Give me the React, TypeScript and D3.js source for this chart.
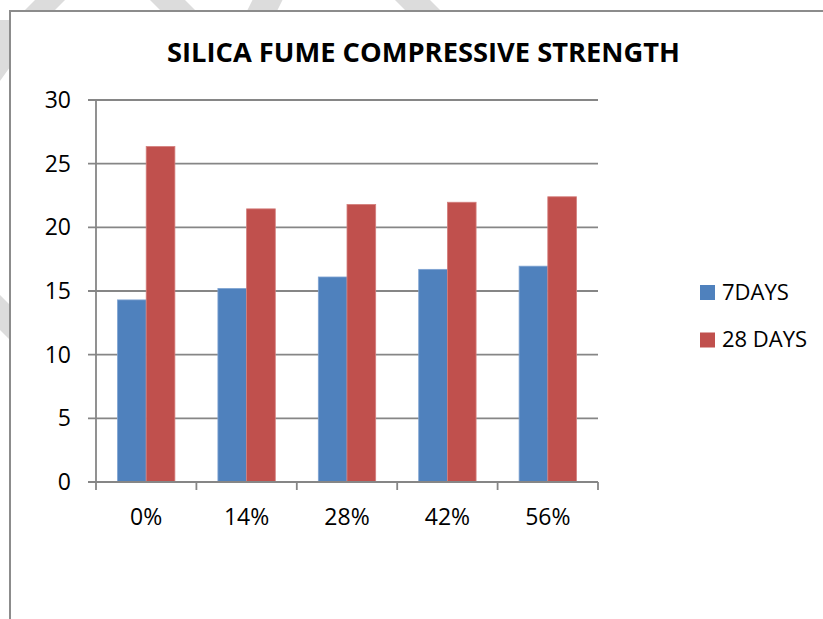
import React from "react";
import * as d3 from "d3";

// Compressive strength (MPa) by silica fume replacement level
const categories = ["0%", "14%", "28%", "42%", "56%"];
const series = ["7DAYS", "28 DAYS"];
const days7 = [14.3, 15.2, 16.1, 16.7, 16.95];
const days28 = [26.35, 21.45, 21.8, 21.97, 22.4];
const yTicks = [0, 5, 10, 15, 20, 25, 30];
const colors = ["#4F81BD", "#C0504D"];
const edgeColors = ["#7FA3D2", "#D47F7D"];

const W = 823;
const H = 619;
const plot = { left: 96, right: 598, top: 100, bottom: 482 };
const font = "'Open Sans', 'DejaVu Sans', sans-serif";

// Faint diagonal background bands sitting behind the framed chart
const bands: [number, number][][] = [
  [[40, -5], [70, -5], [20, 45], [-10, 45]],
  [[145, -5], [180, -5], [200, 15], [165, 15]],
  [[255, -5], [285, -5], [275, 15], [245, 15]],
  [[390, -5], [425, -5], [445, 15], [410, 15]],
  [[-10, 20], [15, 20], [15, 60], [-10, 95]],
  [[-10, 285], [15, 310], [15, 345], [-10, 320]],
];

export default function App() {
  const x = d3
    .scaleBand<string>()
    .domain(categories)
    .range([plot.left, plot.right])
    .paddingInner(0)
    .paddingOuter(0);
  const y = d3.scaleLinear().domain([0, 30]).range([plot.bottom, plot.top]);

  const bw = x.bandwidth();
  const barW = bw / 3.5;
  const groupOffset = (bw - 2 * barW) / 2;
  const values = [days7, days28];

  const xTickPos = categories.map((c) => x(c)!).concat([plot.right]);

  return (
    <svg
      width={W}
      height={H}
      style={{ position: "absolute", left: 0, top: 0, background: "#fff" }}
    >
      {bands.map((b, i) => (
        <polygon key={i} points={b.map((p) => p.join(",")).join(" ")} fill="#DCDCDC" />
      ))}

      {/* chart frame */}
      <rect x={10} y={11} width={W + 20} height={H + 20} fill="#fff" stroke="#8C8C8C" strokeWidth={2} />

      <text
        x={423.5}
        y={62}
        textAnchor="middle"
        fontFamily={font}
        fontWeight="bold"
        fontSize={26}
        textLength={513}
        lengthAdjust="spacingAndGlyphs"
        fill="#000"
      >
        SILICA FUME COMPRESSIVE STRENGTH
      </text>

      {/* gridlines with left tick marks */}
      {yTicks.map((t) => (
        <line
          key={t}
          x1={plot.left - 8}
          x2={plot.right}
          y1={y(t)}
          y2={y(t)}
          stroke="#868686"
          strokeWidth={1.8}
        />
      ))}
      {yTicks.map((t) => (
        <text
          key={"l" + t}
          x={71}
          y={y(t) + 8}
          textAnchor="end"
          fontFamily={font}
          fontSize={23}
          fill="#000"
        >
          {t}
        </text>
      ))}

      {/* bars */}
      {values.map((vals, s) =>
        vals.map((v, i) => (
          <rect
            key={s + "-" + i}
            x={x(categories[i])! + groupOffset + s * barW}
            y={y(v)}
            width={barW}
            height={y(0) - y(v)}
            fill={colors[s]}
            stroke={edgeColors[s]}
            strokeWidth={0.8}
          />
        ))
      )}

      {/* axes */}
      <line x1={plot.left} x2={plot.left} y1={plot.top} y2={plot.bottom} stroke="#868686" strokeWidth={1.8} />
      <line x1={plot.left - 8} x2={plot.right} y1={plot.bottom} y2={plot.bottom} stroke="#868686" strokeWidth={1.8} />
      {xTickPos.map((px, i) => (
        <line key={"xt" + i} x1={px} x2={px} y1={plot.bottom} y2={plot.bottom + 8} stroke="#868686" strokeWidth={1.8} />
      ))}
      {categories.map((c) => (
        <text
          key={c}
          x={x(c)! + bw / 2}
          y={525}
          textAnchor="middle"
          fontFamily={font}
          fontSize={23}
          fill="#000"
        >
          {c}
        </text>
      ))}

      {/* legend */}
      {series.map((s, i) => (
        <g key={s} transform={`translate(700, ${285 + i * 47.5})`}>
          <rect x={0} y={0} width={15} height={15} fill={colors[i]} />
          <text x={22} y={14.5} fontFamily={font} fontSize={22} fill="#000">
            {s}
          </text>
        </g>
      ))}
    </svg>
  );
}
